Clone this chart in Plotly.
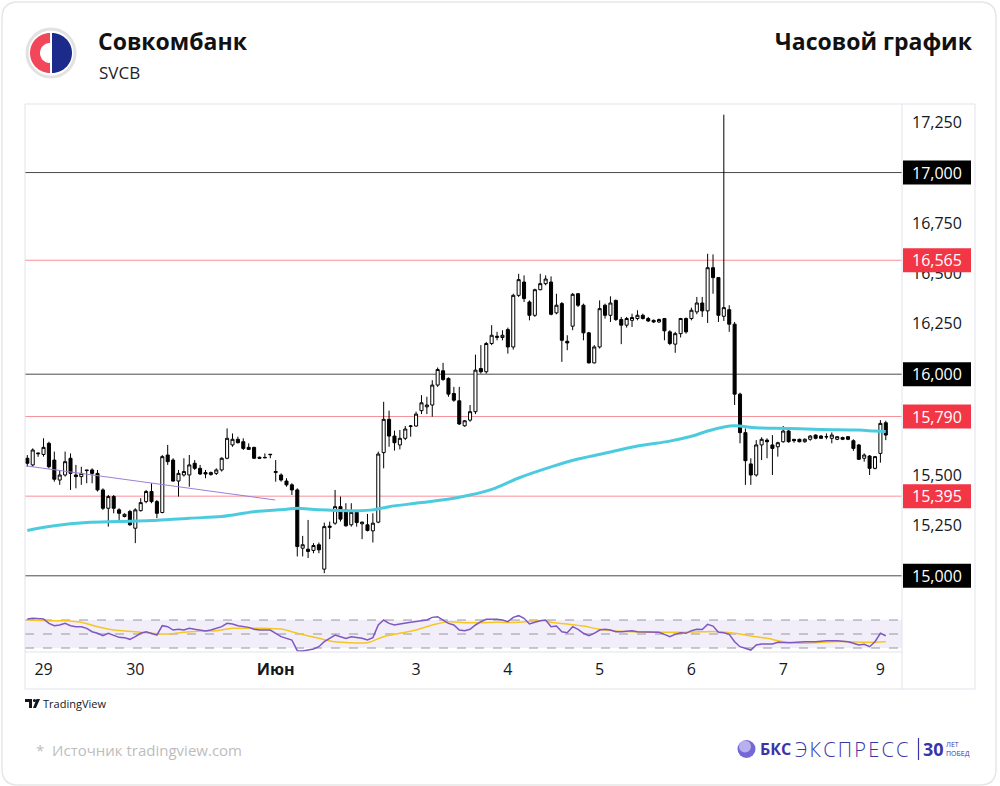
import math
import plotly.graph_objects as go

# ---------------- data ----------------
candle_idx = list(range(160))

opens = [15583, 15550, 15605, 15602, 15657, 15574, 15475, 15500, 15583, 15500,
         15492, 15525, 15525, 15508, 15426, 15335, 15393, 15327, 15294, 15319,
         15236, 15323, 15368, 15418, 15368, 15314, 15599, 15574, 15470, 15500,
         15500, 15558, 15533, 15512, 15502, 15508, 15525, 15583, 15649, 15677,
         15665, 15637, 15637, 15588, 15585, 15603, 15512, 15500, 15470, 15451,
         15426, 15137, 15132, 15126, 15154, 15033, 15240, 15261, 15343, 15327,
         15253, 15315, 15258, 15253, 15223, 15266, 15611, 15776, 15693, 15649,
         15682, 15741, 15743, 15819, 15838, 15847, 15946, 16017, 15979, 15904,
         15868, 15744, 15772, 15814, 16028, 16012, 16152, 16182, 16182, 16221,
         16135, 16391, 16457, 16358, 16292, 16419, 16449, 16457, 16304, 16350,
         16163, 16238, 16399, 16342, 16205, 16056, 16135, 16342, 16292, 16366,
         16271, 16243, 16267, 16276, 16292, 16276, 16267, 16259, 16276, 16210,
         16149, 16201, 16276, 16276, 16309, 16353, 16314, 16528, 16479, 16287,
         16320, 16248, 15901, 15710, 15555, 15500, 15649, 15673, 15649, 15640,
         15665, 15718, 15677, 15677, 15665, 15677, 15698, 15693, 15689, 15682,
         15677, 15686, 15690, 15670, 15649, 15583, 15594, 15533, 15607, 15759]

highs = [15599, 15632, 15612, 15682, 15665, 15616, 15525, 15616, 15607, 15550,
         15541, 15525, 15533, 15525, 15434, 15401, 15401, 15335, 15310, 15327,
         15335, 15385, 15426, 15459, 15376, 15599, 15649, 15583, 15525, 15583,
         15599, 15574, 15550, 15525, 15517, 15533, 15588, 15731, 15706, 15690,
         15682, 15657, 15640, 15591, 15607, 15604, 15574, 15508, 15484, 15459,
         15434, 15198, 15277, 15162, 15165, 15264, 15269, 15426, 15393, 15360,
         15360, 15324, 15269, 15307, 15310, 15616, 15863, 15819, 15720, 15723,
         15743, 15748, 15814, 15896, 15888, 15970, 16033, 16056, 15984, 15937,
         15937, 15772, 15847, 16097, 16144, 16160, 16243, 16210, 16218, 16231,
         16399, 16498, 16490, 16366, 16424, 16498, 16490, 16485, 16399, 16358,
         16193, 16403, 16403, 16350, 16210, 16144, 16366, 16350, 16386, 16370,
         16284, 16284, 16300, 16317, 16300, 16284, 16271, 16276, 16279, 16218,
         16210, 16279, 16281, 16330, 16383, 16383, 16597, 16594, 16482, 17287,
         16342, 16259, 15908, 15731, 15583, 15673, 15687, 15682, 15698, 15665,
         15743, 15723, 15677, 15680, 15682, 15698, 15701, 15698, 15706, 15711,
         15693, 15690, 15693, 15677, 15654, 15607, 15599, 15594, 15772, 15769]

lows = [15541, 15541, 15590, 15591, 15533, 15467, 15451, 15492, 15426, 15434,
        15451, 15459, 15459, 15418, 15327, 15244, 15310, 15277, 15290, 15248,
        15162, 15319, 15360, 15360, 15286, 15310, 15550, 15467, 15393, 15492,
        15442, 15525, 15500, 15484, 15497, 15500, 15517, 15578, 15640, 15657,
        15624, 15624, 15579, 15579, 15583, 15583, 15467, 15467, 15442, 15401,
        15096, 15096, 15088, 15112, 15112, 15013, 15182, 15253, 15269, 15244,
        15244, 15244, 15182, 15220, 15165, 15261, 15533, 15640, 15621, 15627,
        15673, 15690, 15739, 15802, 15802, 15789, 15937, 15967, 15888, 15863,
        15748, 15739, 15764, 15802, 16003, 16003, 16144, 16168, 16168, 16102,
        16122, 16383, 16358, 16267, 16284, 16416, 16441, 16292, 16297, 16061,
        16119, 16218, 16333, 16168, 16053, 16053, 16127, 16276, 16259, 16264,
        16149, 16231, 16234, 16267, 16271, 16259, 16254, 16254, 16168, 16144,
        16106, 16182, 16201, 16267, 16297, 16284, 16254, 16399, 16259, 16264,
        16210, 15847, 15657, 15451, 15451, 15492, 15574, 15583, 15500, 15591,
        15660, 15660, 15660, 15662, 15660, 15670, 15677, 15680, 15677, 15657,
        15673, 15673, 15673, 15620, 15574, 15566, 15500, 15528, 15561, 15673]

closes = [15558, 15624, 15608, 15637, 15541, 15479, 15500, 15566, 15508, 15492,
          15508, 15522, 15508, 15426, 15335, 15393, 15335, 15310, 15305, 15253,
          15327, 15363, 15418, 15368, 15310, 15591, 15566, 15470, 15508, 15517,
          15550, 15533, 15505, 15505, 15512, 15525, 15583, 15682, 15677, 15660,
          15632, 15627, 15583, 15583, 15587, 15601, 15517, 15475, 15451, 15426,
          15145, 15154, 15121, 15150, 15129, 15244, 15246, 15343, 15281, 15248,
          15315, 15264, 15266, 15225, 15261, 15604, 15776, 15693, 15660, 15682,
          15728, 15743, 15802, 15858, 15847, 15946, 16023, 15974, 15901, 15871,
          15753, 15769, 15814, 16020, 16012, 16152, 16193, 16188, 16193, 16135,
          16391, 16469, 16375, 16292, 16419, 16449, 16472, 16297, 16342, 16168,
          16155, 16396, 16342, 16205, 16056, 16135, 16325, 16292, 16353, 16271,
          16243, 16276, 16281, 16292, 16276, 16264, 16259, 16271, 16215, 16152,
          16201, 16276, 16210, 16317, 16353, 16314, 16528, 16479, 16292, 16330,
          16248, 15901, 15710, 15571, 15500, 15649, 15677, 15665, 15632, 15660,
          15718, 15665, 15670, 15665, 15677, 15693, 15682, 15682, 15690, 15698,
          15690, 15677, 15677, 15632, 15578, 15599, 15533, 15591, 15756, 15698]

ma200_idx = [0, 5, 11, 17, 23, 30, 36, 42, 48, 50, 54, 61, 64, 67, 73, 80, 86,
             91, 97, 102, 108, 113, 119, 123, 126, 129, 131, 135, 141, 147, 154, 157, 159]
ma200_val = [15225, 15248, 15264, 15269, 15274, 15286, 15294, 15318, 15330, 15335,
             15327, 15323, 15327, 15343, 15363, 15390, 15429, 15485, 15540, 15579,
             15614, 15644, 15668, 15692, 15718, 15738, 15744, 15734, 15731, 15726,
             15723, 15718, 15716]

trend_idx = [-0.2, 45.9]
trend_val = [15545, 15376]

rsi_idx = [0, 1, 3, 4, 5, 6, 7, 8, 9, 10, 11, 12, 13, 14, 15, 16, 17, 18, 19, 20,
           21, 22, 23, 24, 25, 26, 27, 28, 29, 30, 31, 33, 34, 35, 36, 37, 38, 39,
           41, 42, 43, 45, 46, 47, 48, 49, 50, 51, 52, 53, 54, 55, 56, 57, 58, 59,
           60, 61, 62, 63, 64, 65, 66, 67, 68, 69, 70, 71, 73, 74, 75, 76, 77, 78,
           79, 80, 81, 82, 83, 84, 85, 86, 87, 88, 89, 90, 91, 92, 93, 94, 95, 96,
           97, 98, 99, 100, 101, 102, 103, 104, 105, 106, 107, 108, 109, 110, 112,
           113, 115, 117, 118, 119, 120, 121, 122, 123, 124, 125, 126, 127, 128,
           129, 130, 131, 132, 133, 134, 135, 136, 138, 139, 141, 142, 143, 144,
           146, 148, 150, 152, 153, 154, 155, 156, 157, 158, 159]
rsi_val = [71.4, 72.4, 71.4, 65.2, 61.9, 62.9, 65.2, 61.9, 60.5, 60.5, 58.1, 53.3,
           51.0, 47.6, 51.0, 47.6, 45.2, 44.8, 42.4, 46.2, 51.0, 53.3, 51.0, 48.6,
           61.9, 60.5, 55.7, 56.7, 55.7, 58.1, 56.7, 54.3, 55.7, 58.1, 60.5, 65.2,
           64.3, 61.9, 59.5, 56.7, 55.7, 55.7, 51.0, 46.2, 43.8, 41.4, 26.2, 25.7,
           27.1, 28.6, 31.9, 39.0, 43.8, 48.6, 46.2, 43.8, 46.2, 45.2, 43.8, 41.4,
           44.8, 62.9, 70.0, 65.2, 62.9, 64.3, 65.2, 66.7, 69.0, 70.0, 73.8, 74.8,
           70.0, 65.2, 62.9, 55.7, 54.8, 56.7, 62.9, 67.6, 71.0, 71.4, 71.0, 70.0,
           67.6, 73.8, 76.2, 72.4, 64.3, 66.7, 69.0, 70.0, 60.5, 61.4, 53.3, 51.9,
           60.5, 56.7, 51.0, 47.6, 51.0, 55.7, 56.7, 55.7, 53.3, 53.3, 54.8, 53.3,
           52.4, 52.4, 49.5, 46.2, 49.5, 51.9, 51.0, 54.8, 56.7, 56.5, 63.8, 61.4,
           52.4, 51.9, 49.5, 39.0, 31.9, 29.0, 27.1, 34.3, 35.7, 35.7, 38.1, 37.6,
           38.1, 37.6, 39.0, 39.0, 40.5, 40.5, 39.0, 36.7, 34.3, 35.2, 31.9, 39.0,
           51.0, 47.6]

rsi_ma_idx = [0, 4, 7, 10, 13, 16, 20, 23, 26, 29, 32, 35, 38, 41, 44, 47, 50, 54,
              57, 60, 63, 66, 69, 72, 75, 78, 81, 84, 87, 91, 94, 96, 97, 100, 103,
              106, 109, 112, 115, 118, 121, 125, 128, 131, 134, 137, 140, 143, 146,
              149, 152, 155, 159]
rsi_ma_val = [70.0, 69.0, 69.0, 66.7, 60.5, 55.7, 53.3, 51.0, 50.0, 52.4, 54.3, 54.8,
              58.1, 58.1, 58.1, 57.1, 51.0, 43.8, 39.0, 37.6, 37.6, 46.2, 51.0, 55.7,
              62.9, 67.6, 66.2, 66.2, 66.7, 66.7, 68.6, 69.0, 66.7, 64.3, 61.4, 56.7,
              54.3, 53.3, 52.4, 52.4, 52.4, 53.3, 53.3, 51.0, 47.1, 43.8, 39.0, 36.7,
              37.6, 39.0, 39.0, 38.1, 39.0]

day_tick_idx = [3, 20, 46, 72, 89, 106, 123, 140, 158]
day_tick_text = ["29", "30", "<b>Июн</b>", "3", "4", "5", "6", "7", "9"]

# axis ticks (15,750 is fully hidden by the 15,790 label in the reference)
price_ticks = [15000, 15250, 15500, 16000, 16250, 16500, 16750, 17000, 17250]
black_levels = [17000, 16000, 15000]
red_levels = [16565, 15790, 15395]

# ---------------- layout helpers ----------------
FONT = "Open Sans"
PL, PR, PT, PB = 25, 902, 104, 652          # plot area in page pixels


def px(x):
    return (x - PL) / (PR - PL)


def py(y):
    return (PB - y) / (PB - PT)


def path_from_pixels(points, close=True):
    s = "M " + " L ".join(f"{px(x):.5f},{py(y):.5f}" for x, y in points)
    return s + (" Z" if close else "")


def circle_shape(cx, cy, r, fill, line_color=None, line_width=0, opacity=1):
    return dict(type="circle", xref="paper", yref="paper",
                x0=px(cx - r), x1=px(cx + r), y0=py(cy + r), y1=py(cy - r),
                fillcolor=fill, opacity=opacity,
                line=dict(color=line_color or fill, width=line_width), layer="above")


fig = go.Figure()

fig.add_trace(go.Scatter(x=ma200_idx, y=ma200_val, mode="lines", yaxis="y",
                         line=dict(color="#4CCBDF", width=3, shape="spline"),
                         hoverinfo="skip"))
fig.add_trace(go.Scatter(x=trend_idx, y=trend_val, mode="lines", yaxis="y",
                         line=dict(color="#9C7FD6", width=1), hoverinfo="skip"))
fig.add_trace(go.Candlestick(
    x=candle_idx, open=opens, high=highs, low=lows, close=closes,
    yaxis="y", whiskerwidth=0,
    increasing=dict(line=dict(color="#000000", width=1), fillcolor="#FFFFFF"),
    decreasing=dict(line=dict(color="#000000", width=1), fillcolor="#000000"),
    hoverinfo="skip"))
fig.add_trace(go.Scatter(x=rsi_ma_idx, y=rsi_ma_val, mode="lines", yaxis="y2",
                         line=dict(color="#F6C623", width=1.5, shape="spline"),
                         hoverinfo="skip"))
fig.add_trace(go.Scatter(x=rsi_idx, y=rsi_val, mode="lines", yaxis="y2",
                         line=dict(color="#7E57C2", width=1.5), hoverinfo="skip"))

shapes = []
annotations = []

# card
r = 16
x0c, y0c, x1c, y1c = 2, 2, 996, 785
card = (f"M {px(x0c + r)},{py(y0c)} L {px(x1c - r)},{py(y0c)} "
        f"Q {px(x1c)},{py(y0c)} {px(x1c)},{py(y0c + r)} L {px(x1c)},{py(y1c - r)} "
        f"Q {px(x1c)},{py(y1c)} {px(x1c - r)},{py(y1c)} L {px(x0c + r)},{py(y1c)} "
        f"Q {px(x0c)},{py(y1c)} {px(x0c)},{py(y1c - r)} L {px(x0c)},{py(y0c + r)} "
        f"Q {px(x0c)},{py(y0c)} {px(x0c + r)},{py(y0c)} Z")
shapes.append(dict(type="path", xref="paper", yref="paper", path=card,
                   line=dict(color="#E6E6E6", width=1.5), fillcolor="rgba(0,0,0,0)",
                   layer="below"))

# RSI band + dashed levels
shapes.append(dict(type="rect", xref="paper", yref="y2", x0=0, x1=1, y0=30, y1=70,
                   fillcolor="rgba(126,87,194,0.10)", line=dict(width=0), layer="below"))
for lv in (70, 50, 30):
    shapes.append(dict(type="line", xref="paper", yref="y2", x0=0, x1=1, y0=lv, y1=lv,
                       line=dict(color="#9598A1", width=1, dash="dash"), layer="below"))

# horizontal levels
for lv in black_levels:
    shapes.append(dict(type="line", xref="paper", yref="y", x0=0, x1=1, y0=lv, y1=lv,
                       line=dict(color="#4A4A4A", width=1), layer="below"))
for lv in red_levels:
    shapes.append(dict(type="line", xref="paper", yref="y", x0=0, x1=1, y0=lv, y1=lv,
                       line=dict(color="rgba(242,54,69,0.55)", width=1), layer="below"))

# frame lines
grid_c = "#E0E3EB"
shapes.append(dict(type="rect", xref="paper", yref="paper", x0=px(25), x1=px(975),
                   y0=py(689), y1=py(104), line=dict(color=grid_c, width=1),
                   fillcolor="rgba(0,0,0,0)", layer="above"))
shapes.append(dict(type="line", xref="paper", yref="paper", x0=px(902), x1=px(902),
                   y0=py(689), y1=py(104), line=dict(color=grid_c, width=1), layer="above"))
shapes.append(dict(type="line", xref="paper", yref="paper", x0=0, x1=1,
                   y0=0, y1=0, line=dict(color=grid_c, width=1), layer="above"))

# price labels on the axis
for lv, col in [(v, "#000000") for v in black_levels] + [(v, "#F23645") for v in red_levels]:
    shapes.append(dict(type="rect", xref="paper", yref="y", xsizemode="pixel",
                       ysizemode="pixel", xanchor=1, yanchor=lv, x0=1, x1=69,
                       y0=-12, y1=12, fillcolor=col, line=dict(width=0), layer="above"))
    annotations.append(dict(xref="paper", yref="y", x=px(964), y=lv, xanchor="right",
                            yanchor="middle", text=f"{lv:,}", showarrow=False,
                            font=dict(family=FONT, size=16, color="#FFFFFF")))

# Sovcombank logo
lcx, lcy = 51, 53
shapes.append(circle_shape(lcx, lcy, 24, "#FFFFFF", "#E2E2E2", 3))
red_pts = [(lcx - 1 + 20 * math.cos(math.radians(a)), lcy - 20 * math.sin(math.radians(a)))
           for a in range(90, 271, 6)]
red_pts += [(lcx - 1 + 10 * math.cos(math.radians(a)), lcy - 10 * math.sin(math.radians(a)))
            for a in range(270, 89, -6)]
shapes.append(dict(type="path", xref="paper", yref="paper", path=path_from_pixels(red_pts),
                   fillcolor="#F2475B", line=dict(width=0), layer="above"))
blue_pts = [(lcx + 1 + 20 * math.cos(math.radians(a)), lcy - 20 * math.sin(math.radians(a)))
            for a in range(-90, 91, 6)]
shapes.append(dict(type="path", xref="paper", yref="paper", path=path_from_pixels(blue_pts),
                   fillcolor="#1C2A8C", line=dict(width=0), layer="above"))

# header text
annotations.append(dict(xref="paper", yref="paper", x=px(96), y=py(41), xanchor="left",
                        yanchor="middle", text="<b>Совкомбанк</b>", showarrow=False,
                        font=dict(family=FONT, size=23, color="#111111")))
annotations.append(dict(xref="paper", yref="paper", x=px(97), y=py(72), xanchor="left",
                        yanchor="middle", text="SVCB", showarrow=False,
                        font=dict(family=FONT, size=17, color="#222222")))
annotations.append(dict(xref="paper", yref="paper", x=px(975), y=py(41), xanchor="right",
                        yanchor="middle", text="<b>Часовой график</b>", showarrow=False,
                        font=dict(family=FONT, size=23, color="#111111")))

# TradingView mark
shapes.append(dict(type="path", xref="paper", yref="paper",
                   path=path_from_pixels([(25, 699), (32, 699), (32, 708), (29, 708),
                                          (29, 702), (25, 702)]),
                   fillcolor="#131722", line=dict(width=0), layer="above"))
shapes.append(circle_shape(34.5, 700.5, 1.6, "#131722"))
shapes.append(dict(type="path", xref="paper", yref="paper",
                   path=path_from_pixels([(36.5, 699), (40, 699), (36, 708), (33, 708)]),
                   fillcolor="#131722", line=dict(width=0), layer="above"))
annotations.append(dict(xref="paper", yref="paper", x=px(41), y=py(703.5), xanchor="left",
                        yanchor="middle", text="TradingView", showarrow=False,
                        font=dict(family=FONT, size=11, color="#131722")))

# footer
annotations.append(dict(xref="paper", yref="paper", x=px(34), y=py(750), xanchor="left",
                        yanchor="middle", text="*  Источник tradingview.com", showarrow=False,
                        font=dict(family=FONT, size=15, color="#BDBDBD")))
shapes.append(circle_shape(746.5, 749, 9, "#7468D6"))
shapes.append(circle_shape(745, 746.5, 6, "#C4BDF3", opacity=0.85))
indigo = "#3B34A6"
annotations.append(dict(xref="paper", yref="paper", x=px(758), y=py(749), xanchor="left",
                        yanchor="middle", text="<b>БКС</b>", showarrow=False,
                        font=dict(family=FONT, size=16, color=indigo)))
annotations.append(dict(xref="paper", yref="paper", x=px(793), y=py(749), xanchor="left",
                        yanchor="middle",
                        text='<span style="letter-spacing:2.2px">ЭКСПРЕСС</span>',
                        showarrow=False,
                        font=dict(family=FONT, size=20, color=indigo, weight=300)))
shapes.append(dict(type="line", xref="paper", yref="paper", x0=px(918.5), x1=px(918.5),
                   y0=py(760), y1=py(738), line=dict(color=indigo, width=1.2), layer="above"))
annotations.append(dict(xref="paper", yref="paper", x=px(921), y=py(749), xanchor="left",
                        yanchor="middle", text="<b>30</b>", showarrow=False,
                        font=dict(family=FONT, size=18, color=indigo)))
annotations.append(dict(xref="paper", yref="paper", x=px(944), y=py(744), xanchor="left",
                        yanchor="middle", text="ЛЕТ", showarrow=False,
                        font=dict(family=FONT, size=7, color=indigo)))
annotations.append(dict(xref="paper", yref="paper", x=px(944), y=py(753), xanchor="left",
                        yanchor="middle", text="ПОБЕД", showarrow=False,
                        font=dict(family=FONT, size=7, color=indigo)))

fig.update_layout(
    width=1000, height=786, autosize=False,
    margin=dict(l=PL, r=1000 - PR, t=PT, b=786 - PB, pad=0),
    paper_bgcolor="#FFFFFF", plot_bgcolor="#FFFFFF",
    showlegend=False, boxgap=0.25, boxgroupgap=0.25,
    xaxis=dict(domain=[0, 1], range=[-0.43, 162.0], anchor="y2",
               tickvals=day_tick_idx, ticktext=day_tick_text, ticks="",
               showgrid=False, zeroline=False, showline=False,
               tickfont=dict(family=FONT, size=16, color="#131722"),
               ticklabelstandoff=6, rangeslider=dict(visible=False), fixedrange=True),
    yaxis=dict(domain=[py(600), 1], range=[14880, 17340], side="right", anchor="x",
               tickvals=price_ticks, ticktext=[f"{v:,}" for v in price_ticks],
               ticks="", showgrid=False, zeroline=False, showline=False,
               tickfont=dict(family=FONT, size=16, color="#131722"),
               ticklabelstandoff=9, fixedrange=True),
    yaxis2=dict(domain=[0, py(600)], range=[24.3, 98.6], anchor="x",
                showticklabels=False, ticks="", showgrid=False, zeroline=False,
                showline=False, fixedrange=True),
    shapes=shapes, annotations=annotations,
)

fig.write_html("out.html", config={"displayModeBar": False})
